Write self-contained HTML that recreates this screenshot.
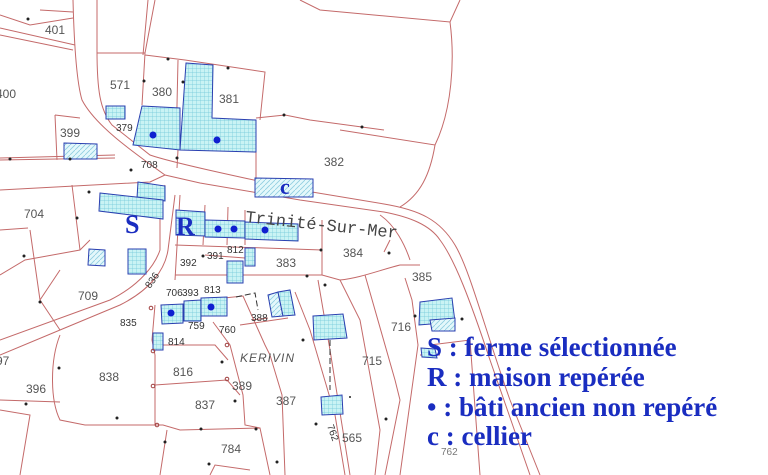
<!DOCTYPE html>
<html><head><meta charset="utf-8"><style>
html,body{margin:0;padding:0;background:#fff;}
svg{display:block}
.l{fill:none;stroke:#c46a6a;stroke-width:1}
.t{font-family:"Liberation Sans",sans-serif;font-size:12px;fill:#555}
.s{font-family:"Liberation Sans",sans-serif;font-size:10px;fill:#333}
.g{fill:url(#grid);stroke:#2a3fb0;stroke-width:1}
.h{fill:url(#hatch);stroke:#2a3fb0;stroke-width:1}
.d{fill:#1020d0}
.lg{font-family:"Liberation Serif",serif;font-weight:bold;font-size:27px;fill:#1a2dc0}
.k{fill:#222}
</style></head><body>
<svg width="768" height="475" viewBox="0 0 768 475" xmlns="http://www.w3.org/2000/svg">
<defs>
<pattern id="grid" width="4" height="4" patternUnits="userSpaceOnUse">
<rect width="4" height="4" fill="#c9f3f4"/><path d="M0 0H4M0 0V4" stroke="#6fc7d8" stroke-width="0.7"/></pattern>
<pattern id="hatch" width="5" height="5" patternUnits="userSpaceOnUse">
<rect width="5" height="5" fill="#e4f8fb"/><path d="M0 5L5 0" stroke="#8fcde0" stroke-width="0.8"/></pattern>
</defs>
<path class="l" d="M73 0 C74 40 76 80 82 100 C95 125 130 150 165 175 L200 183 L300 200 L384 212 C410 217 430 225 440 240 C455 260 470 300 490 360 L530 475"/>
<path class="l" d="M97 0 L97 50 C97 90 100 110 112 125 L150 155 C170 162 230 175 300 190 L384 204 C420 210 440 220 455 245 C470 270 485 330 510 400 L540 475"/>
<path class="l" d="M165 175 L150 182 L0 190"/>
<path class="l" d="M115 155 L0 158"/>
<path class="l" d="M165 185 L160 200 L160 250 C155 265 140 285 110 300 L0 340"/>
<path class="l" d="M175 195 L168 250 C165 270 150 290 120 305 L60 330 L0 355"/>
<path class="l" d="M0 15 L30 25 L73 18"/>
<path class="l" d="M0 28 L75 45"/>
<path class="l" d="M0 35 L73 50"/>
<path class="l" d="M40 10 L73 12"/>
<path class="l" d="M300 0 L320 10 L450 22 L460 0"/>
<path class="l" d="M450 22 C455 60 452 110 435 145 L340 130"/>
<path class="l" d="M435 145 C430 175 420 195 400 207"/>
<path class="l" d="M97 53 L145 53 L155 0 M145 53 L142 105 M145 55 L185 60 L265 72 L260 120 M143 55 L148 0 M178 60 L176 150"/>
<path class="l" d="M256 118 L285 115 L310 120 L384 130 M256 150 L256 178"/>
<path class="l" d="M55 115 L80 118 M55 115 L57 160 M0 160 L115 158"/>
<path class="l" d="M178 150 L177 168"/>
<path class="l" d="M180 195 L175 280 M205 205 L203 245 M228 207 L227 245 M245 210 L245 245 M322 220 L322 275 L175 275"/>
<path class="l" d="M175 245 L322 250 M205 255 L245 258"/>
<path class="l" d="M322 275 L340 280 C360 278 380 270 400 265 L420 265"/>
<path class="l" d="M380 215 C395 225 405 245 410 260 M390 240 L384 252"/>
<path class="l" d="M155 305 L152 340 L155 355 L155 425 L163 425 L180 430 L260 428 L270 475"/>
<path class="l" d="M153 345 L215 345 L228 360 M155 385 L227 380 L240 395"/>
<path class="l" d="M205 300 L243 296 L265 345 L270 355 L282 395 L285 475"/>
<path class="l" d="M213 322 L230 345 L243 395 L245 425 L260 428"/>
<path class="l" d="M240 325 L288 318 M252 320 L268 318"/>
<path class="l" d="M295 292 L310 330 L335 415 L345 475 M318 280 L330 350 L350 475"/>
<path class="l" d="M340 280 L360 320 L380 430 L375 475"/>
<path class="l" d="M365 275 L395 380 L400 400 L385 475"/>
<path class="l" d="M405 278 L412 300 L418 345 L400 475"/>
<path class="l" d="M430 345 L470 340 L480 475 M420 355 L440 355"/>
<path class="l" d="M60 270 L40 300 L60 330 M30 230 L40 300"/>
<path class="l" d="M0 275 L25 260 L80 250 L90 240 M80 250 L72 185"/>
<path class="l" d="M60 335 C50 360 50 400 60 420 L85 425 L155 425 M0 400 L60 402 M0 410 L30 415 L20 475"/>
<path class="l" d="M167 430 L160 475 M210 475 L215 465 L250 470"/>
<path class="l" d="M0 230 L28 228"/>
<path d="M236 297 L255 293 L258 310 M330 340 L330 390" fill="none" stroke="#333" stroke-width="1" stroke-dasharray="6 3"/>
<polygon class="g" points="106,106 125,106 125,119 106,119"/>
<polygon class="g" points="142,106 180,108 180,150 133,145"/>
<polygon class="g" points="186,63 213,65 212,118 256,120 256,152 180,150"/>
<polygon class="h" points="64,143 97,144 97,159 64,159"/>
<polygon class="h" points="255,178 313,179 313,197 255,197"/>
<polygon class="g" points="138,182 165,186 165,201 137,198"/>
<polygon class="g" points="100,193 163,200 163,219 99,211"/>
<polygon class="g" points="176,210 205,212 205,236 176,235"/>
<polygon class="g" points="205,220 245,221 245,238 205,237"/>
<polygon class="g" points="245,222 298,224 298,241 245,239"/>
<polygon class="h" points="89,249 105,250 105,266 88,265"/>
<polygon class="g" points="128,249 146,249 146,274 128,274"/>
<polygon class="g" points="245,248 255,248 255,266 245,266"/>
<polygon class="g" points="227,261 243,261 243,283 227,283"/>
<polygon class="g" points="161,305 183,304 183,323 162,324"/>
<polygon class="g" points="184,301 201,300 201,321 184,321"/>
<polygon class="g" points="201,298 227,297 227,316 201,316"/>
<polygon class="h" points="268,295 278,292 283,316 272,317"/>
<polygon class="g" points="278,292 290,290 295,315 283,316"/>
<polygon class="g" points="153,333 163,333 163,350 153,350"/>
<polygon class="g" points="313,316 343,314 347,338 314,340"/>
<polygon class="g" points="321,397 342,395 343,414 322,415"/>
<polygon class="g" points="420,302 452,298 455,322 419,325"/>
<polygon class="h" points="430,320 455,318 455,331 432,331"/>
<polygon class="g" points="421,348 435,349 437,358 422,357"/>
<circle class="d" cx="153" cy="135" r="3.5"/><circle class="d" cx="217" cy="140" r="3.5"/>
<circle class="d" cx="218" cy="229" r="3.5"/><circle class="d" cx="234" cy="229" r="3.5"/><circle class="d" cx="265" cy="230" r="3.5"/>
<circle class="d" cx="171" cy="313" r="3.5"/><circle class="d" cx="211" cy="307" r="3.5"/>
<g class="k"><circle cx="28" cy="19" r="1.5"/><circle cx="144" cy="81" r="1.5"/><circle cx="168" cy="59" r="1.5"/><circle cx="228" cy="68" r="1.5"/><circle cx="183" cy="82" r="1.5"/><circle cx="284" cy="115" r="1.5"/><circle cx="362" cy="127" r="1.5"/><circle cx="10" cy="159" r="1.5"/><circle cx="70" cy="159" r="1.5"/><circle cx="131" cy="170" r="1.5"/><circle cx="177" cy="158" r="1.5"/><circle cx="89" cy="192" r="1.5"/><circle cx="77" cy="218" r="1.5"/><circle cx="24" cy="256" r="1.5"/><circle cx="40" cy="302" r="1.5"/><circle cx="203" cy="256" r="1.5"/><circle cx="321" cy="250" r="1.5"/><circle cx="307" cy="276" r="1.5"/><circle cx="325" cy="285" r="1.5"/><circle cx="389" cy="253" r="1.5"/><circle cx="303" cy="340" r="1.5"/><circle cx="222" cy="362" r="1.5"/><circle cx="235" cy="401" r="1.5"/><circle cx="256" cy="429" r="1.5"/><circle cx="201" cy="429" r="1.5"/><circle cx="117" cy="418" r="1.5"/><circle cx="59" cy="368" r="1.5"/><circle cx="26" cy="404" r="1.5"/><circle cx="165" cy="442" r="1.5"/><circle cx="209" cy="464" r="1.5"/><circle cx="277" cy="462" r="1.5"/><circle cx="316" cy="424" r="1.5"/><circle cx="386" cy="419" r="1.5"/><circle cx="415" cy="316" r="1.5"/><circle cx="462" cy="319" r="1.5"/><circle cx="350" cy="397" r="1"/></g>
<g fill="none" stroke="#a04040" stroke-width="1"><circle cx="153" cy="351" r="1.8"/><circle cx="153" cy="386" r="1.8"/><circle cx="227" cy="345" r="1.8"/><circle cx="227" cy="379" r="1.8"/><circle cx="151" cy="308" r="1.8"/><circle cx="157" cy="425" r="1.8"/></g>
<g class="t">
<text x="45" y="34">401</text><text x="-4" y="98">400</text><text x="110" y="89">571</text><text x="152" y="96">380</text><text x="219" y="103">381</text><text x="60" y="137">399</text><text x="324" y="166">382</text><text x="24" y="218">704</text><text x="343" y="257">384</text><text x="276" y="267">383</text><text x="412" y="281">385</text><text x="78" y="300">709</text><text x="391" y="331">716</text><text x="99" y="381">838</text><text x="173" y="376">816</text><text x="232" y="390">389</text><text x="276" y="405">387</text><text x="26" y="393">396</text><text x="-4" y="365">97</text><text x="195" y="409">837</text><text x="221" y="453">784</text><text x="342" y="442">565</text><text x="362" y="365">715</text>
<text x="240" y="362" font-style="italic" letter-spacing="1">KERIVIN</text>
</g>
<g class="s">
<text x="116" y="131">379</text><text x="141" y="168">708</text><text x="180" y="266">392</text><text x="207" y="259">391</text><text x="227" y="253">812</text><text x="166" y="296">706</text><text x="182" y="296">393</text><text x="204" y="293">813</text><text x="120" y="326">835</text><text x="188" y="329">759</text><text x="219" y="333">760</text><text x="251" y="321">388</text><text x="168" y="345">814</text><text x="441" y="455" fill="#777">762</text>
<text x="150" y="289" transform="rotate(-55 150 289)">836</text>
<text x="327" y="426" transform="rotate(70 327 426)">762</text>
</g>
<text x="245" y="222" font-family="'Liberation Mono',monospace" font-size="17" fill="#444" transform="rotate(6 245 222)">Trinité-Sur-Mer</text>
<text x="125" y="233" class="lg" style="font-size:26px">S</text>
<text x="176" y="235" class="lg" style="font-size:26px">R</text>
<text x="280" y="194" class="lg" style="font-size:22px">c</text>
<text x="427" y="356" class="lg">S : ferme sélectionnée</text>
<text x="427" y="386" class="lg">R : maison repérée</text>
<text x="427" y="416" class="lg">• : bâti ancien non repéré</text>
<text x="427" y="445" class="lg">c : cellier</text>
</svg>
</body></html>
